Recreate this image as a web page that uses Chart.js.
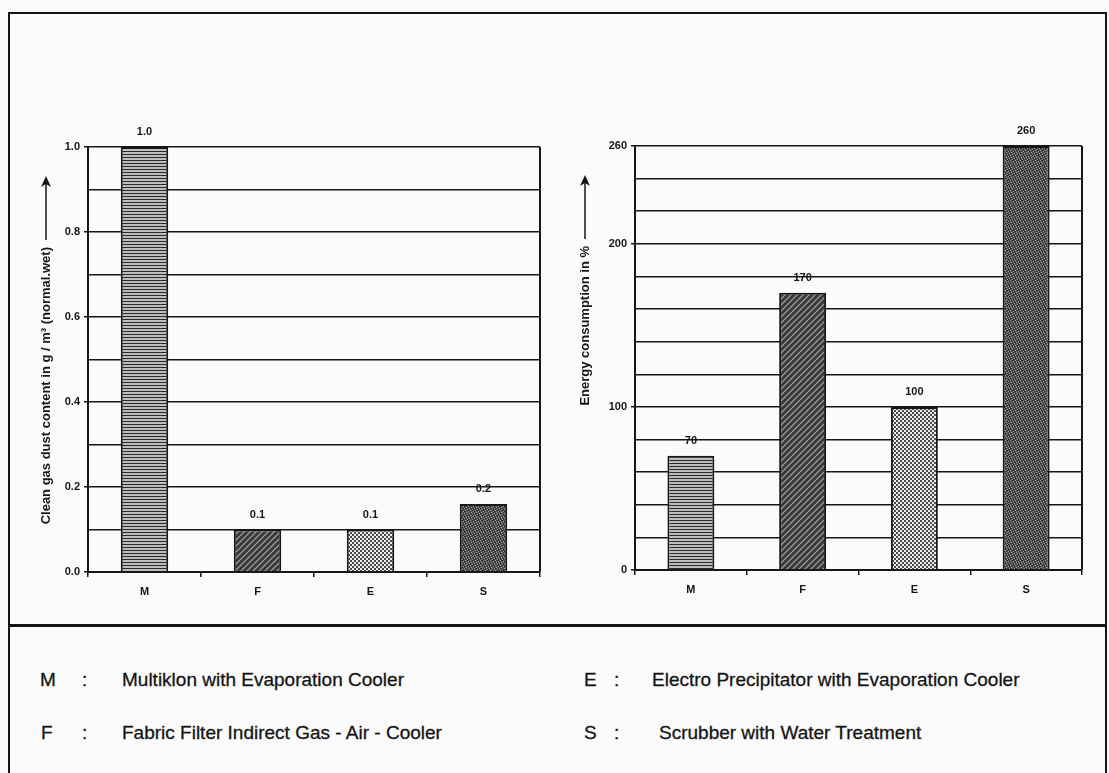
<!DOCTYPE html>
<html>
<head>
<meta charset="utf-8">
<script src="https://cdn.jsdelivr.net/npm/chart.js@4.4.1/dist/chart.umd.min.js"></script>
<style>
  body { margin: 0; background: #fbfbfb; width: 1109px; height: 773px; overflow: hidden; position: relative; font-family: "Liberation Sans", Arial, sans-serif; }
  #frame { position: absolute; left: 8px; top: 12px; width: 1095px; height: 800px; border: 2px solid #151515; border-bottom: none; }
  #sep { position: absolute; left: 8px; top: 624px; width: 1099px; height: 3px; background: #151515; }
  canvas { position: absolute; }
  .lg { position: absolute; font-size: 19px; line-height: 22px; color: #141414; white-space: nowrap; -webkit-text-stroke: 0.3px #141414; }
</style>
</head>
<body>
<div id="frame"></div>
<div id="sep"></div>
<canvas id="dust" width="545" height="520" style="left:10px;top:100px"></canvas>
<canvas id="energy" width="545" height="520" style="left:560px;top:100px"></canvas>

<div class="lg" style="left:40px;top:669px">M</div>
<div class="lg" style="left:82px;top:669px">:</div>
<div class="lg" style="left:122px;top:669px">Multiklon with Evaporation Cooler</div>
<div class="lg" style="left:584px;top:669px">E</div>
<div class="lg" style="left:614px;top:669px">:</div>
<div class="lg" style="left:652px;top:669px">Electro Precipitator with Evaporation Cooler</div>
<div class="lg" style="left:41px;top:722px">F</div>
<div class="lg" style="left:82px;top:722px">:</div>
<div class="lg" style="left:122px;top:722px">Fabric Filter Indirect Gas - Air - Cooler</div>
<div class="lg" style="left:584px;top:722px">S</div>
<div class="lg" style="left:614px;top:722px">:</div>
<div class="lg" style="left:659px;top:722px">Scrubber with Water Treatment</div>

<script>
const categories = ["M", "F", "E", "S"];
const dustValues = [1.0, 0.1, 0.1, 0.16];
const energyValues = [70, 170, 100, 260];
const dustTitle = "Clean gas dust content in g / m\u00b3 (normal.wet)";
const energyTitle = "Energy consumption in %";

const narrow = '"Liberation Sans Narrow", "Arial Narrow", "Liberation Sans", Arial, sans-serif';
const ink = "#161616";

// bar fill textures
function pattern(size, draw) {
  const c = document.createElement("canvas");
  c.width = c.height = size;
  const g = c.getContext("2d");
  draw(g, size);
  return g.createPattern(c, "repeat");
}
const stripes = pattern(3, (g) => {
  g.fillStyle = "#bdbdbd"; g.fillRect(0, 0, 3, 3);
  g.fillStyle = "#2a2a2a"; g.fillRect(0, 0, 3, 1);
});
const hatch = pattern(6, (g) => {
  g.fillStyle = "#3a3a3a"; g.fillRect(0, 0, 6, 6);
  g.strokeStyle = "#a8a8a8"; g.lineWidth = 1.2;
  g.beginPath();
  g.moveTo(0, 6); g.lineTo(6, 0);
  g.moveTo(-1, 1); g.lineTo(1, -1);
  g.moveTo(5, 7); g.lineTo(7, 5);
  g.stroke();
});
const checker = pattern(4, (g) => {
  g.fillStyle = "#ececec"; g.fillRect(0, 0, 4, 4);
  g.fillStyle = "#4a4a4a"; g.fillRect(0, 0, 2, 2); g.fillRect(2, 2, 2, 2);
});
const speckle = pattern(5, (g) => {
  g.fillStyle = "#4d4d4d"; g.fillRect(0, 0, 5, 5);
  g.fillStyle = "#a0a0a0";
  [[0, 0], [3, 1], [1, 2], [4, 3], [2, 4]].forEach(([x, y]) => g.fillRect(x, y, 1, 1));
  g.fillStyle = "#1e1e1e";
  [[2, 0], [0, 3], [4, 1], [3, 4]].forEach(([x, y]) => g.fillRect(x, y, 1, 1));
});
const fills = [stripes, hatch, checker, speckle];

const decor = {
  id: "decor",
  afterDatasetsDraw(chart, args, opts) {
    const ctx = chart.ctx;
    const meta = chart.getDatasetMeta(0);
    ctx.save();
    ctx.font = "bold 11px " + narrow;
    ctx.fillStyle = ink;
    ctx.textAlign = "center";
    ctx.textBaseline = "middle";
    meta.data.forEach((bar, i) => {
      ctx.fillText(opts.fmt(chart.data.datasets[0].data[i]), bar.x, bar.y - 15);
    });
    ctx.restore();
  },
  afterDraw(chart, args, opts) {
    const { ctx, chartArea: a } = chart;
    ctx.save();
    // right border of plot
    ctx.strokeStyle = ink;
    ctx.lineWidth = 2;
    ctx.beginPath();
    ctx.moveTo(a.right, a.top);
    ctx.lineTo(a.right, a.bottom);
    ctx.stroke();
    // axis title with arrow
    const x = a.left - opts.offset;
    ctx.lineWidth = 1.5;
    ctx.beginPath();
    ctx.moveTo(x, a.top + 36);
    ctx.lineTo(x, a.top + 93);
    ctx.stroke();
    ctx.fillStyle = ink;
    ctx.beginPath();
    ctx.moveTo(x, a.top + 29);
    ctx.lineTo(x - 5, a.top + 40);
    ctx.lineTo(x, a.top + 37);
    ctx.lineTo(x + 5, a.top + 40);
    ctx.closePath();
    ctx.fill();
    ctx.translate(x, a.top + 100);
    ctx.rotate(-Math.PI / 2);
    ctx.font = "bold 13px " + narrow;
    ctx.textAlign = "right";
    ctx.textBaseline = "middle";
    ctx.fillText(opts.title, 0, 0);
    ctx.restore();
  },
};

function makeChart(id, values, yCfg, pad, decorOpts) {
  return new Chart(document.getElementById(id), {
    type: "bar",
    data: {
      labels: categories,
      datasets: [{
        data: values,
        backgroundColor: fills,
        borderColor: ink,
        borderWidth: 2,
        categoryPercentage: 1,
        barPercentage: 0.42,
      }],
    },
    options: {
      responsive: false,
      animation: false,
      layout: { padding: pad },
      plugins: { legend: { display: false }, tooltip: { enabled: false }, decor: decorOpts },
      scales: {
        x: {
          afterFit: (s) => { s.height = 30; },
          grid: { offset: true, drawOnChartArea: false, tickLength: 5, color: ink, lineWidth: 1.5 },
          border: { color: ink, width: 2 },
          ticks: { color: ink, font: { family: narrow, size: 11, weight: "bold" }, padding: 8 },
        },
        y: {
          min: 0,
          max: yCfg.max,
          afterFit: (s) => { s.width = 40; },
          grid: {
            color: ink,
            lineWidth: 1.5,
            tickLength: 4,
            tickColor: (c) => (yCfg.label(c.tick.value, c.index) !== "" ? ink : "rgba(0,0,0,0)"),
          },
          border: { color: ink, width: 2 },
          ticks: {
            stepSize: yCfg.step,
            color: ink,
            font: { family: narrow, size: 11, weight: "bold" },
            padding: 4,
            callback: yCfg.label,
          },
        },
      },
    },
    plugins: [decor],
  });
}

makeChart("dust", dustValues,
  { max: 1, step: 0.1, label: (v, i) => (i % 2 === 0 ? v.toFixed(1) : "") },
  { left: 38, right: 15, top: 47, bottom: 18 },
  { title: dustTitle, offset: 42, fmt: (v) => v.toFixed(1) });

makeChart("energy", energyValues,
  { max: 260, step: 20, label: (v) => (v % 100 === 0 || v === 260 ? String(v) : "") },
  { left: 35, right: 23, top: 46, bottom: 20 },
  { title: energyTitle, offset: 50, fmt: (v) => v.toFixed(0) });
</script>
</body>
</html>
